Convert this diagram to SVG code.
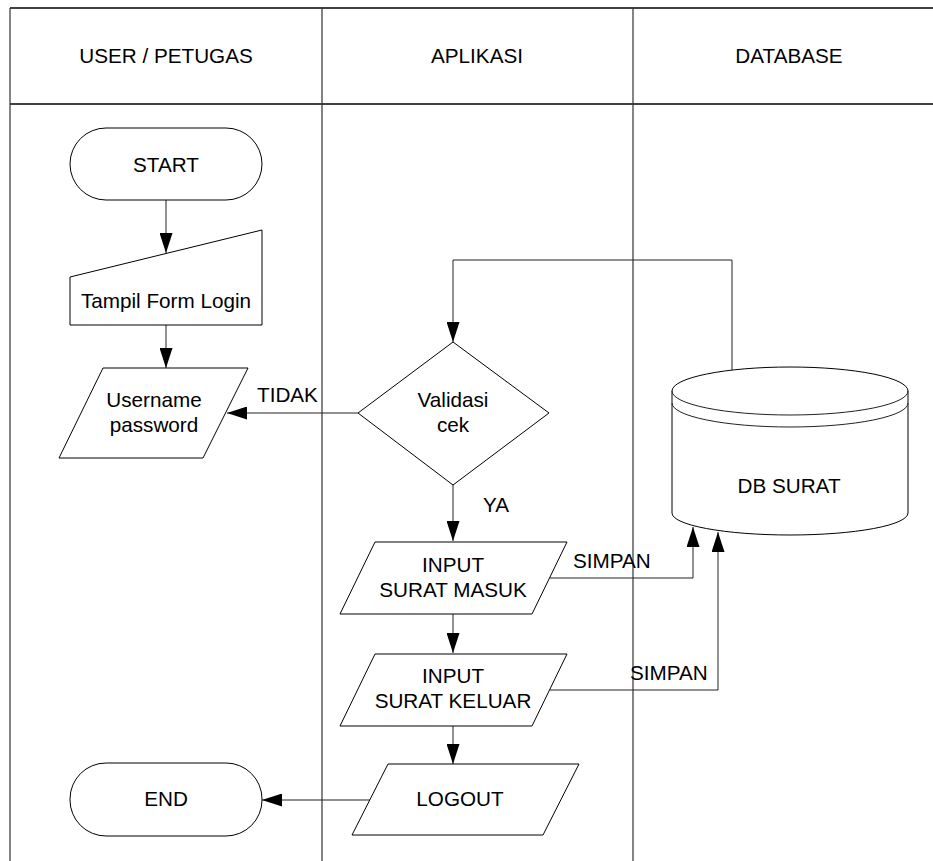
<svg xmlns="http://www.w3.org/2000/svg" width="933" height="861" viewBox="0 0 933 861">
<style>
  text { font-family: "Liberation Sans", Arial, sans-serif; font-size: 20.7px; fill: #000; text-anchor: middle; }
  .lbl { text-anchor: start; }
  .shape { fill: #fff; stroke: #000; stroke-width: 1; }
  .lane { fill: none; stroke: #000; stroke-width: 1.5; }
  .laneV { fill: none; stroke: #333; stroke-width: 1.2; }
  .conn { fill: none; stroke: #222; stroke-width: 1; }
</style>
<defs>
  <marker id="arr" viewBox="0 0 20 13" refX="20" refY="6.5" markerWidth="20" markerHeight="13" markerUnits="userSpaceOnUse" orient="auto">
    <path d="M0,0 L20,6.5 L0,13 Z" fill="#000"/>
  </marker>
</defs>
<rect width="933" height="861" fill="#fff"/>
<g id="lanes">
  <line class="lane" x1="10" y1="8" x2="933" y2="8"/>
  <line class="lane" x1="10" y1="104" x2="933" y2="104"/>
  <line class="laneV" x1="10" y1="8" x2="10" y2="861"/>
  <line class="laneV" x1="322" y1="8" x2="322" y2="861"/>
  <line class="laneV" x1="633" y1="8" x2="633" y2="861"/>
  <text x="166" y="63">USER / PETUGAS</text>
  <text x="477" y="63">APLIKASI</text>
  <text x="789" y="63">DATABASE</text>
</g>
<g id="connectors">
  <path class="conn" d="M166,200 V253" marker-end="url(#arr)"/>
  <path class="conn" d="M166,325 V368" marker-end="url(#arr)"/>
  <path class="conn" d="M358,413 H227" marker-end="url(#arr)"/>
  <path class="conn" d="M732,370 V260 H453 V342" marker-end="url(#arr)"/>
  <path class="conn" d="M453,485 V541" marker-end="url(#arr)"/>
  <path class="conn" d="M550,578 H693 V527" marker-end="url(#arr)"/>
  <path class="conn" d="M453,614 V653" marker-end="url(#arr)"/>
  <path class="conn" d="M550,690 H718 V532" marker-end="url(#arr)"/>
  <path class="conn" d="M453,726 V764" marker-end="url(#arr)"/>
  <path class="conn" d="M370,800 H262" marker-end="url(#arr)"/>
  <text class="lbl" x="257" y="402">TIDAK</text>
  <text class="lbl" x="483" y="512">YA</text>
  <text class="lbl" x="573" y="568">SIMPAN</text>
  <text class="lbl" x="630" y="680">SIMPAN</text>
</g>
<g id="start">
  <rect class="shape" x="70" y="128" width="192" height="72" rx="36" ry="36"/>
  <text x="166" y="172">START</text>
</g>
<g id="form-login">
  <path class="shape" d="M70,277 L262,230 L262,325 L70,325 Z"/>
  <text x="166" y="308">Tampil Form Login</text>
</g>
<g id="username">
  <path class="shape" d="M103,368 L248,368 L203,458 L59,458 Z"/>
  <text x="154" y="407">Username</text>
  <text x="154" y="432">password</text>
</g>
<g id="validasi">
  <path class="shape" d="M453,342 L549,413 L453,485 L358,413 Z"/>
  <text x="453" y="407">Validasi</text>
  <text x="453" y="432">cek</text>
</g>
<g id="db-surat">
  <path class="shape" d="M672,391 A118,24 0 0 1 908,391 V513 A118,22 0 0 1 672,513 Z"/>
  <path class="conn" d="M672,391 A118,24 0 0 0 908,391" stroke="#000"/>
  <path class="conn" d="M672,403 A118,24 0 0 0 908,403" stroke="#000"/>
  <text x="789" y="493">DB SURAT</text>
</g>
<g id="surat-masuk">
  <path class="shape" d="M375,542 L567,542 L532,614 L340,614 Z"/>
  <text x="453" y="572">INPUT</text>
  <text x="453" y="597">SURAT MASUK</text>
</g>
<g id="surat-keluar">
  <path class="shape" d="M375,654 L567,654 L532,726 L340,726 Z"/>
  <text x="453" y="683">INPUT</text>
  <text x="453" y="708">SURAT KELUAR</text>
</g>
<g id="logout">
  <path class="shape" d="M388,764 L579,764 L543,835 L352,835 Z"/>
  <text x="460" y="806">LOGOUT</text>
</g>
<g id="end">
  <rect class="shape" x="70" y="763" width="192" height="73" rx="36" ry="36"/>
  <text x="166" y="806">END</text>
</g>
</svg>
